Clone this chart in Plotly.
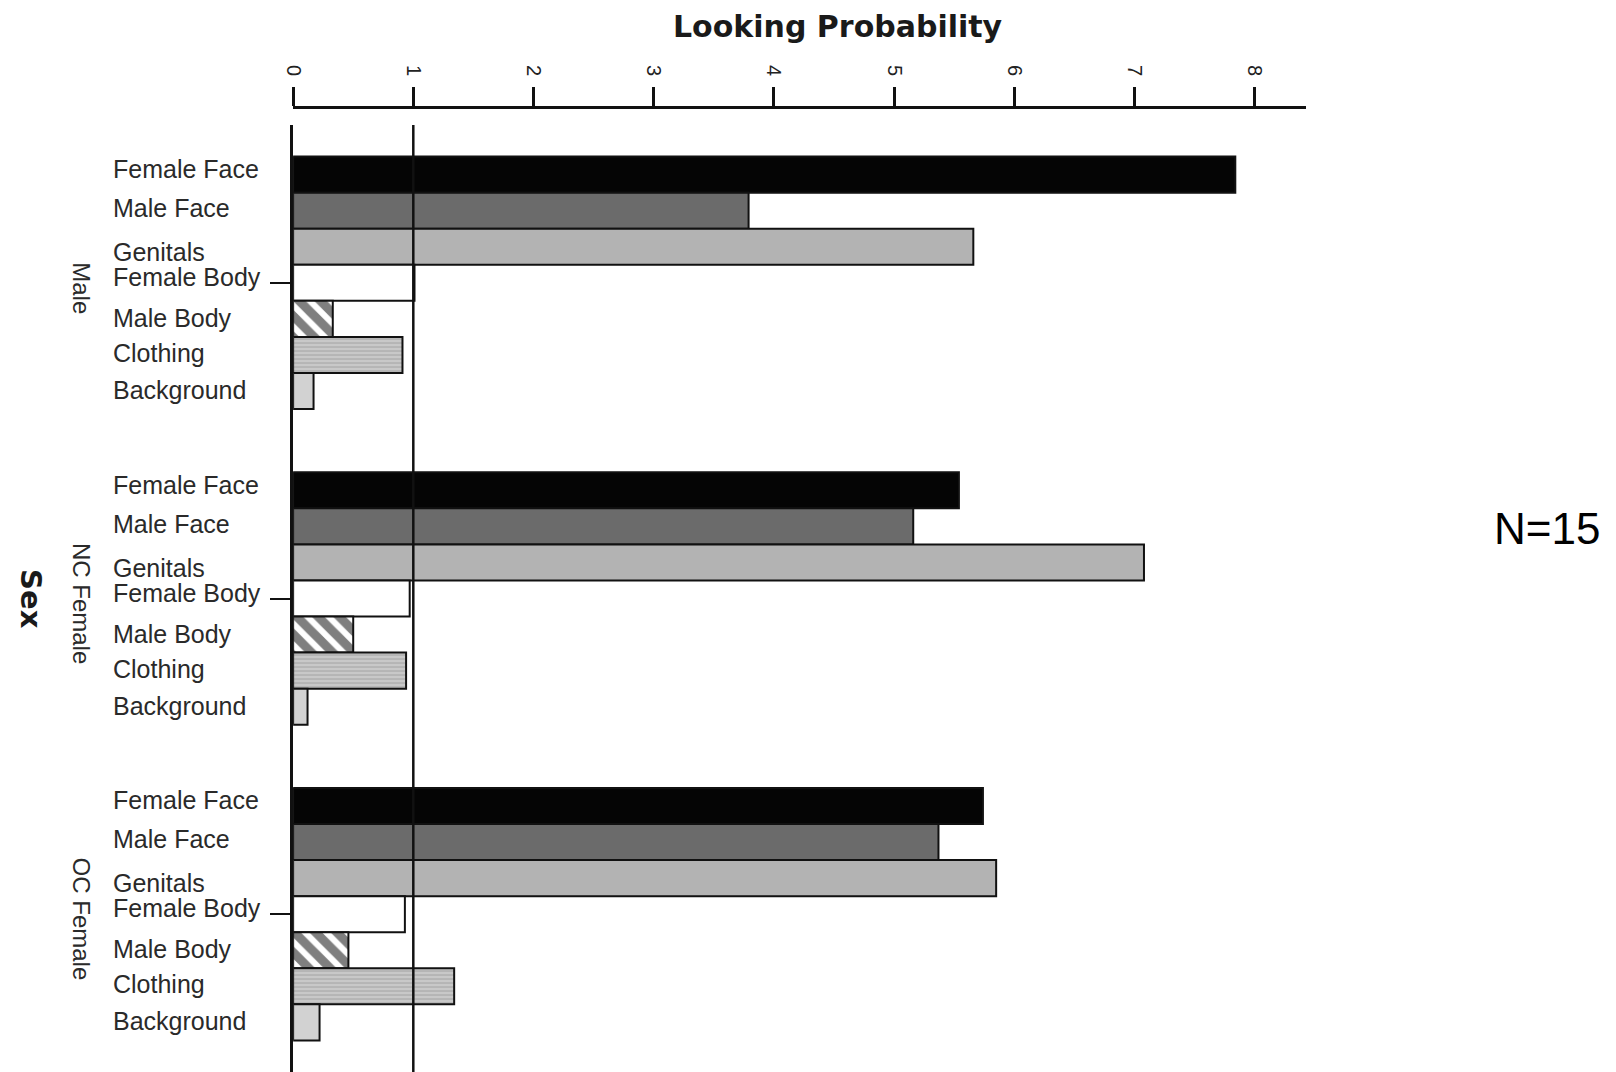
import plotly.graph_objects as go

W, H = 1616, 1072

groups = ["Male", "NC Female", "OC Female"]
categories = ["Female Face", "Male Face", "Genitals", "Female Body", "Male Body", "Clothing", "Background"]

female_face = [7.84, 5.54, 5.74]
male_face = [3.79, 5.16, 5.37]
genitals = [5.66, 7.08, 5.85]
female_body = [1.01, 0.97, 0.93]
male_body = [0.33, 0.50, 0.46]
clothing = [0.91, 0.94, 1.34]
background = [0.17, 0.12, 0.22]

series = [female_face, male_face, genitals, female_body, male_body, clothing, background]

x_ticks = [0, 1, 2, 3, 4, 5, 6, 7, 8]

# styles
fills = ["#050505", "#6b6b6b", "#b3b3b3", "#ffffff", "#ffffff", "#c4c4c4", "#d2d2d2"]
patterns = [None, None, None, None,
            dict(shape="\\", fgcolor="#000000", bgcolor="#ffffff", size=15, solidity=0.6),
            dict(shape="-", fgcolor="#8a8a8a", bgcolor="#c8c8c8", size=4, solidity=0.3),
            None]
label_offsets = [-114, -75, -31, -6, 35, 70, 107]  # px relative to group centre (down = +)

# page offset compensation (page body margin)
DX, DY = -15, -8

def px_x(p):
    return (p + DX) / W

def px_y(p):
    return 1 - (p + DY) / H

x0_px, unit_px = 291, 121.0
x_right_px = 1311
y_top_px = 125
y_bot_px = 1072
xrange_max = (x_right_px - x0_px) / unit_px

fig = go.Figure()
for name, vals, fill, pat in zip(categories, series, fills, patterns):
    marker = dict(color=fill, line=dict(color="#111111", width=2))
    if pat is not None:
        marker["pattern"] = pat
    fig.add_trace(go.Bar(
        x=vals, y=groups, orientation="h", name=name,
        marker=marker, showlegend=False,
    ))

annotations = []
for g in groups:
    for cat, off in zip(categories, label_offsets):
        annotations.append(dict(
            text=cat, x=px_x(108), xref="paper", y=g, yref="y",
            xanchor="left", yanchor="middle", yshift=-off, showarrow=False,
            font=dict(family="Liberation Sans, Arial, sans-serif", size=25, color="#2a2a2a"),
        ))
    annotations.append(dict(
        text=g, x=px_x(78), xref="paper", y=g, yref="y", textangle=90,
        xanchor="center", yanchor="middle", yshift=-5, showarrow=False,
        font=dict(family="Liberation Sans, Arial, sans-serif", size=24, color="#2a2a2a"),
    ))

annotations += [
    dict(text="<b>Looking Probability</b>", x=px_x(840), y=1.0, xref="paper", yref="paper",
         xanchor="center", yanchor="top", showarrow=False, borderpad=0,
         font=dict(family="DejaVu Sans, sans-serif", size=30, color="#1a1a1a")),
    dict(text="<b>Sex</b>", x=px_x(27), y=px_y(599), xref="paper", yref="paper", textangle=90,
         xanchor="center", yanchor="middle", showarrow=False,
         font=dict(family="DejaVu Sans, sans-serif", size=29, color="#1a1a1a")),
    dict(text="N=15", x=px_x(1553), y=px_y(528), xref="paper", yref="paper",
         xanchor="center", yanchor="middle", showarrow=False,
         font=dict(family="Liberation Sans, Arial, sans-serif", size=44, color="#000000")),
]

fig.update_layout(
    width=W, height=H,
    margin=dict(l=0, r=0, t=0, b=0),
    paper_bgcolor="white", plot_bgcolor="white",
    barmode="group", bargap=0.2, bargroupgap=0,
    annotations=annotations,
    shapes=[dict(type="line", xref="x", yref="paper", x0=1, x1=1,
                 y0=px_y(y_bot_px), y1=px_y(y_top_px),
                 line=dict(color="#111111", width=2.5), layer="above")],
    xaxis=dict(
        domain=[px_x(x0_px), px_x(x_right_px)], range=[0, xrange_max],
        side="top", anchor="free", position=px_y(107),
        showgrid=False, zeroline=False, showline=True, linecolor="#111111", linewidth=3,
        ticks="outside", ticklen=19, tickwidth=2.5, tickcolor="#111111",
        tickvals=x_ticks, ticktext=[str(t) for t in x_ticks], tickangle=90,
        ticklabelstandoff=4,
        tickfont=dict(family="Liberation Sans, Arial, sans-serif", size=20, color="#222222"),
    ),
    yaxis=dict(
        domain=[px_y(y_bot_px), px_y(y_top_px)], type="category", categoryorder="array",
        categoryarray=groups, range=[2.5, -0.5],
        showgrid=False, zeroline=False, showline=True, linecolor="#111111", linewidth=2.5,
        ticks="outside", ticklen=20, tickwidth=2, tickcolor="#111111",
        showticklabels=False,
    ),
)

fig.write_html("out.html")
